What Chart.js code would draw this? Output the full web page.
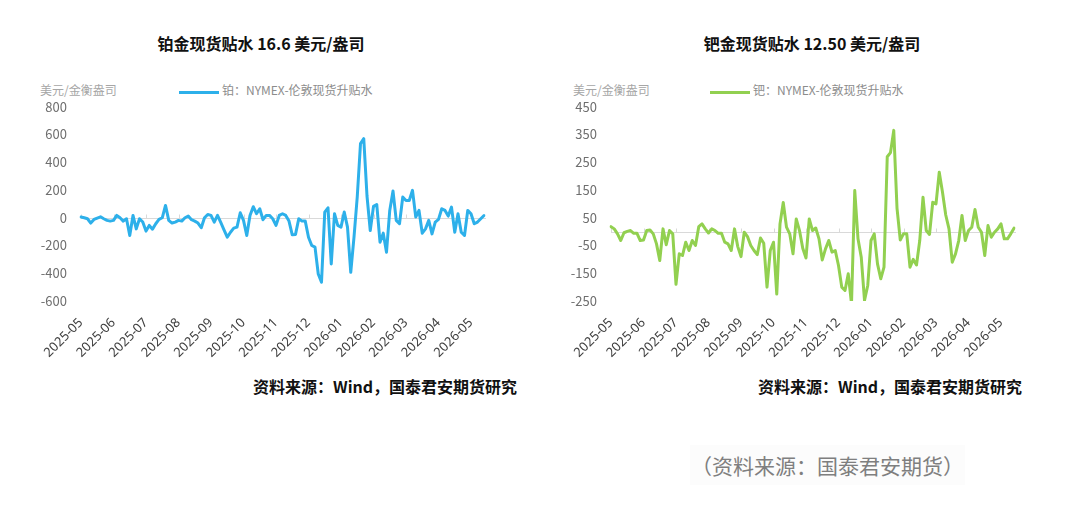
<!DOCTYPE html>
<html>
<head>
<meta charset="utf-8">
<script src="https://cdn.jsdelivr.net/npm/chart.js@4.4.1/dist/chart.umd.min.js"></script>
<style>
  body{margin:0;background:#fff;font-family:"Noto Sans CJK SC","Noto Sans",sans-serif;}
  #wrap{position:relative;width:1080px;height:505px;overflow:hidden;background:#fff;}
  .abs{position:absolute;white-space:nowrap;}
  .title{font-size:16px;font-weight:700;color:#111;text-align:center;top:31px;}
  .unit{font-size:12px;color:#a6a6a6;top:81px;}
  .legtxt{font-size:12px;color:#8c8c8c;top:81px;}
  .legline{height:3px;top:91px;width:40px;}
  .src{font-size:16px;font-weight:700;color:#111;top:374px;}
  #caption{left:690px;top:445px;width:275px;height:40px;background:#fcfcfc;font-size:21px;color:#7f7f7f;line-height:40px;text-align:center;}
  canvas{position:absolute;}
</style>
</head>
<body>
<div id="wrap">
  <div class="abs title" style="left:0;width:522px;">铂金现货贴水 16.6 美元/盎司</div>
  <div class="abs title" style="left:562px;width:500px;">钯金现货贴水 12.50 美元/盎司</div>

  <div class="abs unit" style="left:40px;">美元/金衡盎司</div>
  <div class="abs legline" style="left:179px;background:#2db0ea;"></div>
  <div class="abs legtxt" style="left:222px;">铂：NYMEX-伦敦现货升贴水</div>

  <div class="abs unit" style="left:573px;">美元/金衡盎司</div>
  <div class="abs legline" style="left:710px;background:#92d050;"></div>
  <div class="abs legtxt" style="left:753px;">钯：NYMEX-伦敦现货升贴水</div>

  <canvas id="ptChart" width="540" height="276" style="left:0;top:85px;"></canvas>
  <canvas id="pdChart" width="540" height="276" style="left:530px;top:85px;"></canvas>

  <div class="abs src" style="left:253px;">资料来源：Wind，国泰君安期货研究</div>
  <div class="abs src" style="left:758px;">资料来源：Wind，国泰君安期货研究</div>

  <div class="abs" id="caption">（资料来源：国泰君安期货）</div>
</div>

<script>
/* global Chart */

// month ticks on the x axis; each month holds PER_MONTH samples
const MONTHS = ["2025-05","2025-06","2025-07","2025-08","2025-09","2025-10","2025-11",
                "2025-12","2026-01","2026-02","2026-03","2026-04","2026-05"];
const PER_MONTH = 10;

// 铂：NYMEX-伦敦现货升贴水 (USD/oz)
const ptSpread = [
  5, 0, -7, -38, -12, -2, 7, -7, -19, -24,
  -19, 17, 0, -24, -7, -128, 17, -80, -7, -31,
  -96, -55, -82, -43, -12, 0, 89, -19, -38, -31,
  -19, -24, 0, 12, -14, -24, -38, -72, 0, 24,
  17, -31, 17, -34, -87, -140, -104, -75, -67, 36,
  -19, -128, 17, 80, 29, 65, -14, 17, 17, -7,
  -55, 17, 29, 17, -24, -123, -120, -7, -24, -24,
  -140, -200, -212, -405, -465, 40, 72, -333, 29, -55,
  -67, 41, -67, -393, -140, 150, 535, 570, 157, -92,
  82, 96, -176, -111, -248, 53, 193, -19, -43, 149,
  125, 125, 198, 5, 53, -111, -80, -19, -116, -31,
  -12, 65, 53, 12, 77, -104, 29, -104, -128, 53,
  29, -43, -31, -7, 16.6
];

// 钯：NYMEX-伦敦现货升贴水 (USD/oz)
const pdSpread = [
  18, 10, -8, -32, -4, 1, 4, -6, -6, -32,
  -30, 4, 6, -8, -44, -104, 10, -47, 4, -8,
  -190, -80, -86, -38, -68, -32, -50, 18, 28, 10,
  -5, 10, 4, -6, -6, -38, -44, -68, 10, -54,
  -90, -2, -18, -50, -68, -83, -23, -42, -200, -68,
  -38, -225, 28, 105, 16, -8, -80, 46, 4, -60,
  -95, 46, 4, 13, -26, -102, -62, -32, -74, -68,
  -122, -200, -212, -152, -260, 148, -26, -92, -248, -194,
  -32, -8, -116, -170, -128, 270, 285, 365, 85, -30,
  -8, -8, -128, -100, -120, -32, 124, 4, -10, 106,
  100, 214, 142, 60, 10, -110, -80, -32, 58, -32,
  4, 16, 80, 16, -2, -86, 22, -20, -2, 10,
  28, -26, -26, -8, 12.5
];

const ptAxis = { min: -600, max: 800, step: 200 };
const pdAxis = { min: -250, max: 450, step: 100 };

const COLORS = { pt: "#2db0ea", pd: "#92d050" };

// zero line with small month marks, like the original
const zeroLine = {
  id: "zeroLine",
  beforeDatasetsDraw(chart){
    const { ctx, chartArea, scales: { x, y } } = chart;
    const y0 = Math.round(y.getPixelForValue(0)) + 0.5;
    ctx.save();
    ctx.strokeStyle = "#d9d9d9";
    ctx.lineWidth = 1;
    ctx.beginPath();
    ctx.moveTo(chartArea.left, y0);
    ctx.lineTo(chartArea.right + 2, y0);
    for (let i = 0; i < chart.data.labels.length; i += PER_MONTH){
      const px = Math.round(x.getPixelForValue(i)) + 0.5;
      ctx.moveTo(px, y0);
      ctx.lineTo(px, y0 - 4);
    }
    ctx.stroke();
    ctx.restore();
  }
};

function buildChart(id, values, color, axis){
  const labels = values.map((_, i) => MONTHS[Math.floor(i / PER_MONTH)]);
  return new Chart(document.getElementById(id), {
    type: "line",
    data: {
      labels,
      datasets: [{
        data: values,
        borderColor: color,
        borderWidth: 3,
        pointRadius: 0,
        tension: 0,
        borderJoinStyle: "round",
        borderCapStyle: "round"
      }]
    },
    options: {
      responsive: false,
      animation: false,
      devicePixelRatio: 1,
      layout: { padding: { left: 0, right: 56, top: 2, bottom: 0 } },
      plugins: { legend: { display: false }, tooltip: { enabled: false } },
      scales: {
        x: {
          grid: { display: false },
          border: { display: false },
          afterFit: (s) => { s.height = 60; },
          ticks: {
            autoSkip: false,
            minRotation: 45,
            maxRotation: 45,
            padding: 6,
            color: "#404040",
            font: { family: "'Noto Sans', sans-serif", size: 13 },
            callback: (v, i) => (i % PER_MONTH === 0 ? labels[i] : null)
          }
        },
        y: {
          min: axis.min,
          max: axis.max,
          grid: { display: false, drawTicks: false },
          border: { display: false },
          afterFit: (s) => { s.width = 81; },
          ticks: {
            stepSize: axis.step,
            padding: 14,
            color: "#6e6e6e",
            font: { family: "'Noto Sans CJK SC', sans-serif", size: 13 }
          }
        }
      }
    },
    plugins: [zeroLine]
  });
}

buildChart("ptChart", ptSpread, COLORS.pt, ptAxis);
buildChart("pdChart", pdSpread, COLORS.pd, pdAxis);
</script>
</body>
</html>
